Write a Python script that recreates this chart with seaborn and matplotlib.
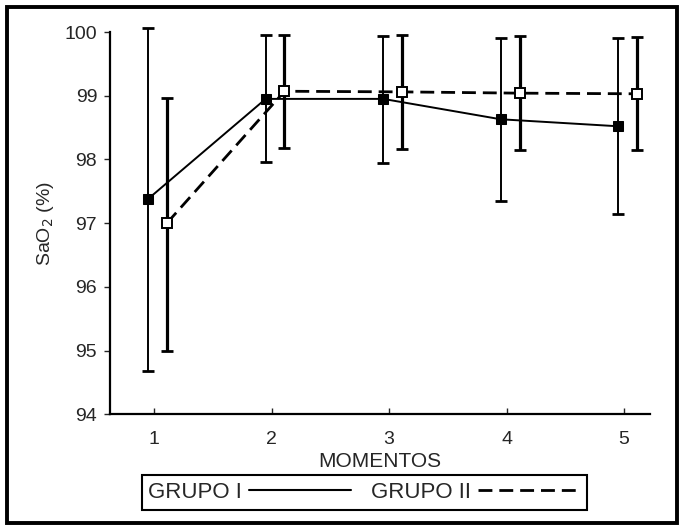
import pandas as pd
import seaborn as sns
import matplotlib.pyplot as plt
from matplotlib.lines import Line2D
from matplotlib.patches import Rectangle

# valores
momentos = [1, 2, 3, 4, 5]
grupo1_media = [97.38, 98.95, 98.95, 98.63, 98.52]
grupo1_inf = [94.68, 97.96, 97.95, 97.35, 97.14]
grupo1_sup = [100.06, 99.95, 99.94, 99.91, 99.90]
grupo2_media = [97.00, 99.07, 99.06, 99.04, 99.03]
grupo2_inf = [94.99, 98.18, 98.17, 98.15, 98.14]
grupo2_sup = [98.97, 99.96, 99.96, 99.93, 99.92]

sns.set_theme(style='ticks')
plt.rcParams['font.family'] = ['Liberation Sans', 'DejaVu Sans']

fig = plt.figure(figsize=(6.9, 5.29), dpi=100)
ax = fig.add_axes([0.159, 0.217, 0.783, 0.7225])

df1 = pd.DataFrame({'x': [m - 0.05 for m in momentos], 'y': grupo1_media})
df2 = pd.DataFrame({'x': [m + 0.11 for m in momentos], 'y': grupo2_media})

# barras de error (rango)
err1 = [[m - lo for m, lo in zip(grupo1_media, grupo1_inf)],
        [hi - m for m, hi in zip(grupo1_media, grupo1_sup)]]
err2 = [[m - lo for m, lo in zip(grupo2_media, grupo2_inf)],
        [hi - m for m, hi in zip(grupo2_media, grupo2_sup)]]
ax.errorbar(df1['x'], df1['y'], yerr=err1, fmt='none', ecolor='black',
            elinewidth=1.4, capsize=4, capthick=2, clip_on=False, zorder=2)
ax.errorbar(df2['x'], df2['y'], yerr=err2, fmt='none', ecolor='black',
            elinewidth=2.3, capsize=4, capthick=2, clip_on=False, zorder=2)

guiones = (0, (5, 2.5))
sns.lineplot(data=df1, x='x', y='y', ax=ax, color='black', linewidth=1.4,
             marker='s', markersize=7.5, markerfacecolor='black',
             markeredgecolor='black', clip_on=False, zorder=3)
sns.lineplot(data=df2, x='x', y='y', ax=ax, color='black', linewidth=2.0,
             linestyle=guiones, marker='s', markersize=7.5,
             markerfacecolor='white', markeredgecolor='black',
             markeredgewidth=1.4, clip_on=False, zorder=3)

ax.set_xlim(0.623, 5.22)
ax.set_ylim(94, 100)
ax.set_xticks(momentos)
ax.set_yticks([94, 95, 96, 97, 98, 99, 100])
ax.tick_params(axis='x', direction='in', length=4, width=1, pad=12, labelsize=14)
ax.tick_params(axis='y', direction='out', length=4, width=1, pad=5, labelsize=14)
for s in ['top', 'right']:
    ax.spines[s].set_visible(False)
for s in ['left', 'bottom']:
    ax.spines[s].set_linewidth(1.6)
    ax.spines[s].set_color('black')

ax.set_xlabel('MOMENTOS', fontsize=15, labelpad=3)
ax.set_ylabel('SaO$_2$ (%)', fontsize=14, labelpad=6)

handles = [Line2D([], [], color='black', linewidth=1.5),
           Line2D([], [], color='black', linewidth=2, linestyle=guiones)]
leg = fig.legend(handles, ['GRUPO I', 'GRUPO II'], ncol=2, markerfirst=False,
                 loc='center', bbox_to_anchor=(0.528, 0.069), fontsize=16,
                 handlelength=4.6, handletextpad=0.3, columnspacing=0.9,
                 borderpad=0.3, fancybox=False, framealpha=1, edgecolor='black')
leg.get_frame().set_linewidth(1.5)

# marco exterior
fig.patches.append(Rectangle((0.01, 0.012), 0.971, 0.975, transform=fig.transFigure,
                             fill=False, edgecolor='black', linewidth=2.8))

fig.savefig('out.png', dpi=100)
